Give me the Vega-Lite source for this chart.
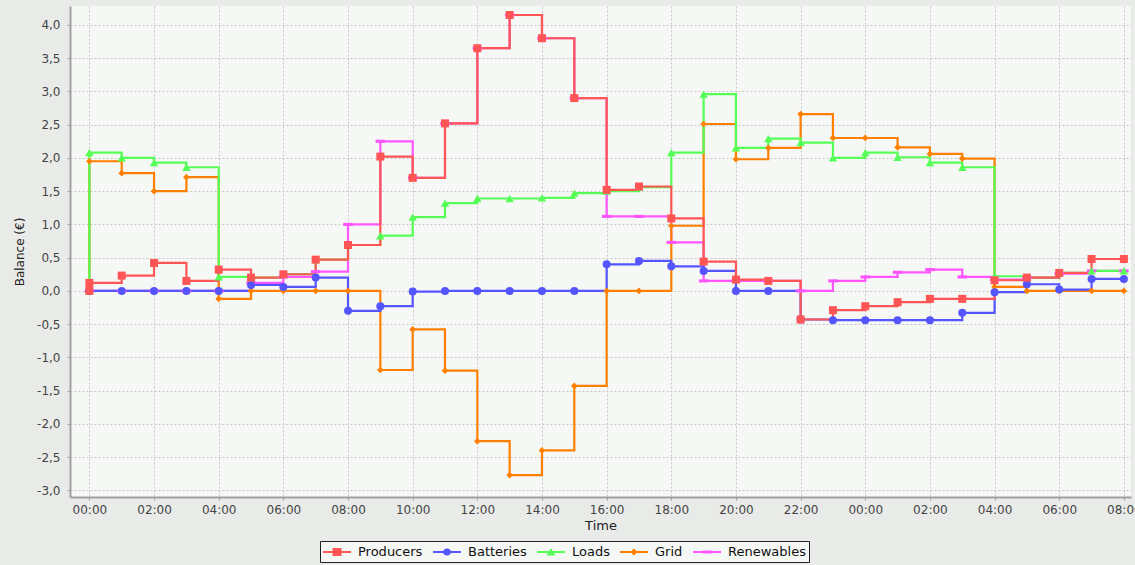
{
  "$schema": "https://vega.github.io/schema/vega-lite/v6.json",
  "width": 1061,
  "height": 491,
  "autosize": {"type": "none"},
  "padding": {"left": 70, "top": 6, "right": 4, "bottom": 68},
  "background": "#e9ebe9",
  "config": {"view": {"fill": "#f5f8f5", "stroke": null}, "font": "DejaVu Sans"},
  "data": {"values": [
    {"s":"Renewables","t":0,"v":0},{"s":"Renewables","t":1,"v":0},{"s":"Renewables","t":2,"v":0},{"s":"Renewables","t":3,"v":0},{"s":"Renewables","t":4,"v":0},{"s":"Renewables","t":5,"v":0.12},{"s":"Renewables","t":6,"v":0.21},{"s":"Renewables","t":7,"v":0.29},{"s":"Renewables","t":8,"v":1.0},{"s":"Renewables","t":9,"v":2.25},{"s":"Renewables","t":10,"v":1.7},{"s":"Renewables","t":11,"v":2.52},{"s":"Renewables","t":12,"v":3.65},{"s":"Renewables","t":13,"v":4.15},{"s":"Renewables","t":14,"v":3.8},{"s":"Renewables","t":15,"v":2.9},{"s":"Renewables","t":16,"v":1.12},{"s":"Renewables","t":17,"v":1.12},{"s":"Renewables","t":18,"v":0.73},{"s":"Renewables","t":19,"v":0.15},{"s":"Renewables","t":20,"v":0.15},{"s":"Renewables","t":21,"v":0.15},{"s":"Renewables","t":22,"v":0.0},{"s":"Renewables","t":23,"v":0.15},{"s":"Renewables","t":24,"v":0.21},{"s":"Renewables","t":25,"v":0.28},{"s":"Renewables","t":26,"v":0.32},{"s":"Renewables","t":27,"v":0.21},{"s":"Renewables","t":28,"v":0.17},{"s":"Renewables","t":29,"v":0.2},{"s":"Renewables","t":30,"v":0.26},{"s":"Renewables","t":31,"v":0.3},{"s":"Renewables","t":32,"v":0.3},
    {"s":"Grid","t":0,"v":0},{"s":"Grid","t":0,"v":1.95},{"s":"Grid","t":1,"v":1.77},{"s":"Grid","t":2,"v":1.5},{"s":"Grid","t":3,"v":1.71},{"s":"Grid","t":4,"v":-0.12},{"s":"Grid","t":5,"v":0},{"s":"Grid","t":6,"v":0},{"s":"Grid","t":7,"v":0},{"s":"Grid","t":8,"v":0},{"s":"Grid","t":9,"v":-1.19},{"s":"Grid","t":10,"v":-0.58},{"s":"Grid","t":11,"v":-1.2},{"s":"Grid","t":12,"v":-2.26},{"s":"Grid","t":13,"v":-2.77},{"s":"Grid","t":14,"v":-2.4},{"s":"Grid","t":15,"v":-1.43},{"s":"Grid","t":16,"v":0},{"s":"Grid","t":17,"v":0},{"s":"Grid","t":18,"v":0.98},{"s":"Grid","t":19,"v":2.51},{"s":"Grid","t":20,"v":1.98},{"s":"Grid","t":21,"v":2.15},{"s":"Grid","t":22,"v":2.66},{"s":"Grid","t":23,"v":2.3},{"s":"Grid","t":24,"v":2.3},{"s":"Grid","t":25,"v":2.16},{"s":"Grid","t":26,"v":2.06},{"s":"Grid","t":27,"v":1.99},{"s":"Grid","t":28,"v":0.06},{"s":"Grid","t":29,"v":0},{"s":"Grid","t":30,"v":0},{"s":"Grid","t":31,"v":0},{"s":"Grid","t":32,"v":0},
    {"s":"Loads","t":0,"v":0},{"s":"Loads","t":0,"v":2.08},{"s":"Loads","t":1,"v":2.0},{"s":"Loads","t":2,"v":1.93},{"s":"Loads","t":3,"v":1.86},{"s":"Loads","t":4,"v":0.21},{"s":"Loads","t":5,"v":0.2},{"s":"Loads","t":6,"v":0.25},{"s":"Loads","t":7,"v":0.47},{"s":"Loads","t":8,"v":0.69},{"s":"Loads","t":9,"v":0.83},{"s":"Loads","t":10,"v":1.11},{"s":"Loads","t":11,"v":1.32},{"s":"Loads","t":12,"v":1.39},{"s":"Loads","t":13,"v":1.39},{"s":"Loads","t":14,"v":1.4},{"s":"Loads","t":15,"v":1.47},{"s":"Loads","t":16,"v":1.5},{"s":"Loads","t":17,"v":1.56},{"s":"Loads","t":18,"v":2.08},{"s":"Loads","t":19,"v":2.96},{"s":"Loads","t":20,"v":2.15},{"s":"Loads","t":21,"v":2.29},{"s":"Loads","t":22,"v":2.23},{"s":"Loads","t":23,"v":2.0},{"s":"Loads","t":24,"v":2.08},{"s":"Loads","t":25,"v":2.01},{"s":"Loads","t":26,"v":1.93},{"s":"Loads","t":27,"v":1.86},{"s":"Loads","t":28,"v":0.22},{"s":"Loads","t":29,"v":0.2},{"s":"Loads","t":30,"v":0.27},{"s":"Loads","t":31,"v":0.3},{"s":"Loads","t":32,"v":0.3},
    {"s":"Batteries","t":0,"v":0},{"s":"Batteries","t":1,"v":0},{"s":"Batteries","t":2,"v":0},{"s":"Batteries","t":3,"v":0},{"s":"Batteries","t":4,"v":0},{"s":"Batteries","t":5,"v":0.09},{"s":"Batteries","t":6,"v":0.06},{"s":"Batteries","t":7,"v":0.2},{"s":"Batteries","t":8,"v":-0.3},{"s":"Batteries","t":9,"v":-0.23},{"s":"Batteries","t":10,"v":-0.01},{"s":"Batteries","t":11,"v":0},{"s":"Batteries","t":12,"v":0},{"s":"Batteries","t":13,"v":0},{"s":"Batteries","t":14,"v":0},{"s":"Batteries","t":15,"v":0},{"s":"Batteries","t":16,"v":0.4},{"s":"Batteries","t":17,"v":0.45},{"s":"Batteries","t":18,"v":0.37},{"s":"Batteries","t":19,"v":0.3},{"s":"Batteries","t":20,"v":0},{"s":"Batteries","t":21,"v":0},{"s":"Batteries","t":22,"v":-0.43},{"s":"Batteries","t":23,"v":-0.44},{"s":"Batteries","t":24,"v":-0.44},{"s":"Batteries","t":25,"v":-0.44},{"s":"Batteries","t":26,"v":-0.44},{"s":"Batteries","t":27,"v":-0.33},{"s":"Batteries","t":28,"v":-0.02},{"s":"Batteries","t":29,"v":0.1},{"s":"Batteries","t":30,"v":0.02},{"s":"Batteries","t":31,"v":0.18},{"s":"Batteries","t":32,"v":0.18},
    {"s":"Producers","t":0,"v":0},{"s":"Producers","t":0,"v":0.12},{"s":"Producers","t":1,"v":0.23},{"s":"Producers","t":2,"v":0.42},{"s":"Producers","t":3,"v":0.15},{"s":"Producers","t":4,"v":0.32},{"s":"Producers","t":5,"v":0.2},{"s":"Producers","t":6,"v":0.25},{"s":"Producers","t":7,"v":0.47},{"s":"Producers","t":8,"v":0.69},{"s":"Producers","t":9,"v":2.02},{"s":"Producers","t":10,"v":1.7},{"s":"Producers","t":11,"v":2.52},{"s":"Producers","t":12,"v":3.65},{"s":"Producers","t":13,"v":4.15},{"s":"Producers","t":14,"v":3.8},{"s":"Producers","t":15,"v":2.9},{"s":"Producers","t":16,"v":1.52},{"s":"Producers","t":17,"v":1.57},{"s":"Producers","t":18,"v":1.09},{"s":"Producers","t":19,"v":0.44},{"s":"Producers","t":20,"v":0.17},{"s":"Producers","t":21,"v":0.15},{"s":"Producers","t":22,"v":-0.43},{"s":"Producers","t":23,"v":-0.29},{"s":"Producers","t":24,"v":-0.23},{"s":"Producers","t":25,"v":-0.17},{"s":"Producers","t":26,"v":-0.12},{"s":"Producers","t":27,"v":-0.12},{"s":"Producers","t":28,"v":0.16},{"s":"Producers","t":29,"v":0.2},{"s":"Producers","t":30,"v":0.27},{"s":"Producers","t":31,"v":0.48},{"s":"Producers","t":32,"v":0.48}
  ]},
  "encoding": {
    "x": {
      "field": "t", "type": "quantitative",
      "scale": {"domain": [-0.6, 32.22], "nice": false, "zero": false},
      "axis": {
        "values": [0,2,4,6,8,10,12,14,16,18,20,22,24,26,28,30,32],
        "labelExpr": "((datum.value % 24) < 10 ? '0' : '') + (datum.value % 24) + ':00'",
        "title": "Time",
        "grid": true, "gridDash": [2, 2], "gridColor": "#c6c6c6",
        "domainColor": "#a0a0a0", "domainWidth": 2,
        "tickColor": "#a0a0a0", "tickSize": 3,
        "labelFontSize": 12, "labelColor": "#444444", "labelPadding": 4,
        "titleFontSize": 13, "titleFontWeight": "normal", "titleColor": "#222222", "titlePadding": 4
      }
    },
    "y": {
      "field": "v", "type": "quantitative",
      "scale": {"domain": [-3.1, 4.285], "nice": false, "zero": false},
      "axis": {
        "values": [-3,-2.5,-2,-1.5,-1,-0.5,0,0.5,1,1.5,2,2.5,3,3.5,4],
        "labelExpr": "(datum.value < 0 ? '-' : '') + replace(format(abs(datum.value), '.1f'), '.', ',')",
        "title": "Balance (€)",
        "grid": true, "gridDash": [2, 2], "gridColor": "#c6c6c6",
        "domainColor": "#a0a0a0", "domainWidth": 2,
        "tickColor": "#a0a0a0", "tickSize": 3,
        "labelFontSize": 12, "labelColor": "#444444", "labelPadding": 7,
        "titleFontSize": 12, "titleFontWeight": "normal", "titleColor": "#222222", "titlePadding": 10
      }
    }
  },
  "layer": [
    {
      "mark": {"type": "line", "interpolate": "step-after", "strokeWidth": 2.2},
      "encoding": {
        "color": {
          "field": "s", "type": "nominal",
          "scale": {
            "domain": ["Producers", "Batteries", "Loads", "Grid", "Renewables"],
            "range": ["#ff5555", "#5555ff", "#55ff55", "#ff8000", "#ff55ff"]
          },
          "legend": {
            "orient": "none", "legendX": 250, "legendY": 535,
            "direction": "horizontal", "title": null,
            "strokeColor": "#222222", "fillColor": "#f5f8f5", "padding": 3,
            "symbolSize": 256, "symbolStrokeWidth": 0, "symbolOpacity": 1,
            "symbolOffset": 6,
            "labelFontSize": 13, "labelColor": "#111111", "labelOffset": 13,
            "columnPadding": 10
          }
        }
      }
    },
    {
      "transform": [{"filter": "datum.t < -100"}],
      "mark": {"type": "point", "filled": true, "opacity": 1, "size": 256},
      "encoding": {
        "color": {"field": "s", "type": "nominal"},
        "shape": {
          "field": "s", "type": "nominal",
          "scale": {
            "domain": ["Producers", "Batteries", "Loads", "Grid", "Renewables"],
            "range": [
              "M-1.75,-0.125H1.75V0.125H-1.75Z M-0.56,-0.5H0.56V0.5H-0.56Z",
              "M-1.75,-0.125H1.75V0.125H-1.75Z M-0.5,0A0.5,0.45,0,1,1,0.5,0A0.5,0.45,0,1,1,-0.5,0Z",
              "M-1.75,-0.125H1.75V0.125H-1.75Z M0,-0.5L0.56,0.45L-0.56,0.45Z",
              "M-1.75,-0.125H1.75V0.125H-1.75Z M0,-0.45L0.45,0L0,0.45L-0.45,0Z",
              "M-1.75,-0.125H1.75V0.125H-1.75Z M-0.56,-0.2H0.56V0.2H-0.56Z"
            ]
          }
        }
      }
    },
    {
      "transform": [{"filter": "datum.s === 'Renewables'"}],
      "mark": {"type": "point", "filled": true, "opacity": 1, "color": "#ff55ff", "shape": "M-1,-0.33H1V0.33H-1Z", "size": 90}
    },
    {
      "transform": [{"filter": "datum.s === 'Grid'"}],
      "mark": {"type": "point", "filled": true, "opacity": 1, "color": "#ff8000", "shape": "diamond", "size": 45}
    },
    {
      "transform": [{"filter": "datum.s === 'Loads'"}],
      "mark": {"type": "point", "filled": true, "opacity": 1, "color": "#55ff55", "shape": "triangle-up", "size": 72}
    },
    {
      "transform": [{"filter": "datum.s === 'Batteries'"}],
      "mark": {"type": "point", "filled": true, "opacity": 1, "color": "#5555ff", "shape": "circle", "size": 64}
    },
    {
      "transform": [{"filter": "datum.s === 'Producers'"}],
      "mark": {"type": "point", "filled": true, "opacity": 1, "color": "#ff5555", "shape": "square", "size": 64}
    }
  ]
}
